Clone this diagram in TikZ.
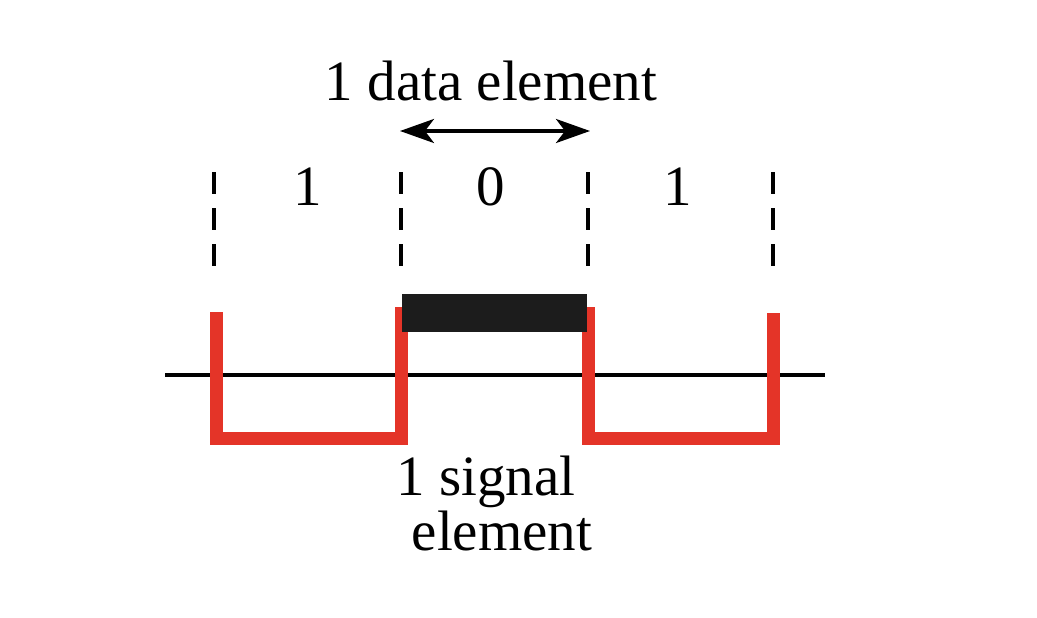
\documentclass[tikz,border=0pt]{standalone}
\usepackage{fontspec}
\setmainfont{Liberation Serif}
\usetikzlibrary{arrows.meta}
\definecolor{sigred}{RGB}{228,52,40}
\definecolor{barblack}{RGB}{28,28,28}
\tikzset{
  lbl/.style={font=\fontsize{57}{60}\selectfont, inner sep=0pt, anchor=base},
  sig/.style={draw=sigred, line width=13pt, miter limit=10},
  axisline/.style={draw=black, line width=3.2pt},
  divider/.style={draw=black, line width=3.2pt, dash pattern=on 22pt off 14pt},
  span/.style={line width=3.4pt, {Stealth[length=34pt,width=24pt,inset=9pt]}-{Stealth[length=34pt,width=24pt,inset=9pt]}}
}
\begin{document}
\begin{tikzpicture}[x=1pt,y=-1pt]
\useasboundingbox (0,0) rectangle (1037,618);
% axis
\coordinate (axL) at (165,375);
\coordinate (axR) at (825,375);
\draw[axisline] (axL) -- (axR);
% dashed dividers
\foreach \x/\n in {214/d1,401/d2,588/d3,773/d4}{
  \coordinate (\n t) at (\x,172);
  \coordinate (\n b) at (\x,268);
  \draw[divider] (\n t) -- (\n b);
}
% red signal
\draw[sig] (216,312) -- (216,438) -- (401.5,438) -- (401.5,307);
\draw[sig] (588,307) -- (588,438) -- (773.5,438) -- (773.5,313);
% black data bar
\fill[barblack] (402,294) rectangle (587,332);
% arrow
\coordinate (aL) at (400,131);
\coordinate (aR) at (590,131);
\draw[span] (aL) -- (aR);
% labels
\node[lbl] (data) at (491,100) {1 data element};
\node[lbl] (b1) at (308,205) {1};
\node[lbl] (b0) at (491,205) {0};
\node[lbl] (b2) at (678,205) {1};
\node[lbl] (sig1) at (486,495) {1 signal};
\node[lbl] (sig2) at (502,550) {element};
\end{tikzpicture}
\end{document}
